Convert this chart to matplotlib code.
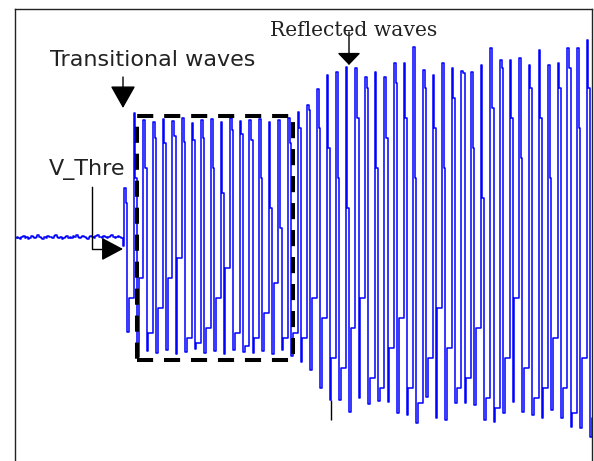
import matplotlib.pyplot as plt
from matplotlib.patches import Rectangle
from matplotlib.lines import Line2D

# samples before the trigger (baseline noise)
noise = [0, 1, 0, -1, 1, 2, 0, 1, -1, 0, 2, 1, 0, 1, 3, 1, 0, -1, 1, 0, 2, 1,
         1, 0, 2, 3, 1, 0, 1, -1, 0, 1, 2, 0, 1, 0, 2, 1, 3, 1, 0, 1, 2, 1,
         0, -1, 1, 2, 1, 0, 2, 3, 1, 1, 0, 2, 1, 0, 1, 2, 3, 1, 0, 1, 2, 1, 0, -8]

# one entry per cycle: peak, step after peak, trough, step after trough
peaks = [50, 125,
         118, 116, 119, 117, 120, 115, 118, 119, 116, 120, 117, 118, 119, 116, 118, 120,
         126, 133, 149, 163, 166, 171, 170, 161, 166, 161, 175, 175, 191, 168, 163, 175,
         170, 167, 166, 173, 190, 178, 178, 180, 173, 188, 173, 175, 190, 190, 198]
upper_steps = [35, 60,
               70, 100, 95, 102, 96, 98, 100, 70, 45, 108, 104, 98, 60, 30, 10, 95,
               110, 128, 110, 90, 60, 30, 120, 150, 70, 100, 155, 120, 60, 150, 110, 70,
               140, 165, 90, 40, 130, 170, 120, 80, 150, 120, 60, 150, 170, 110, 150]
troughs = [-94, -119,
           -113, -115, -112, -116, -114, -111, -115, -113, -116, -112, -114, -115, -113, -116, -112, -118,
           -124, -132, -150, -162, -162, -174, -160, -166, -163, -164, -175, -177, -185, -159, -180, -182,
           -165, -165, -167, -182, -184, -175, -164, -174, -177, -180, -172, -180, -189, -190, -199]
lower_steps = [-60, -40,
               -95, -70, -40, -20, -100, -105, -90, -60, -30, -95, -108, -100, -75, -45, -100, -95,
               -100, -60, -80, -120, -130, -90, -60, -140, -150, -110, -80, -150, -165, -120, -70, -110,
               -150, -140, -90, -160, -170, -120, -60, -130, -160, -150, -100, -150, -175, -120, -180]

# transitional window and cursor mark (sample index / value)
box_x = [76.0, 173.1]
box_y = [-122, 122]
cursor_x = 196.7
cursor_y = [-162, -182]

# each cycle spans 6 samples; the step after the trough is held longest
samples = list(noise)
for p, u, t, l in zip(peaks, upper_steps, troughs, lower_steps):
    samples += [p, u, t, l, l, l]
x = list(range(len(samples)))

W, H = 594, 461
fig = plt.figure(figsize=(W / 100, H / 100), dpi=100)
ax = fig.add_axes([15 / W, 0, 577 / W, 452 / H])

ax.plot(x, samples, color='#0000ff', lw=1.1, drawstyle='steps-post')
ax.vlines(cursor_x, cursor_y[0], cursor_y[1], color='black', lw=1)
ax.add_patch(Rectangle((box_x[0], box_y[0]), box_x[1] - box_x[0], box_y[1] - box_y[0],
                       fill=False, ec='black', lw=2.9, ls=(0, (4, 2.7)), zorder=3))

ax.set_xlim(0, 359.3)
ax.set_ylim(-223, 229)
ax.set_xticks([])
ax.set_yticks([])
ax.spines['bottom'].set_visible(False)
for s in ['left', 'top', 'right']:
    ax.spines[s].set_color('#222222')
    ax.spines[s].set_linewidth(1)


def px(x, y):
    return (x / W, 1 - y / H)


def arrow(start, end, hl, hw):
    ax.annotate('', xy=px(*end), xytext=px(*start), xycoords='figure fraction',
                textcoords='figure fraction',
                arrowprops=dict(arrowstyle='-|>,head_length=%g,head_width=%g' % (hl, hw),
                                mutation_scale=1, color='black', lw=1,
                                shrinkA=0, shrinkB=0))


fig.text(*px(50, 66), 'Transitional waves', fontsize=16, family='DejaVu Sans',
         color='#222222', va='baseline')
fig.text(*px(270, 36), 'Reflected waves', fontsize=14.6, family='DejaVu Serif',
         color='#222222', va='baseline')
fig.text(*px(49, 175), 'V_Thre', fontsize=16, family='DejaVu Sans',
         color='#222222', va='baseline')

arrow((123, 77), (123, 108), 14, 7.9)
arrow((349, 32), (349, 65), 7.5, 7.2)
fig.add_artist(Line2D([92 / W, 92 / W, 104 / W], [1 - 187 / H, 1 - 249 / H, 1 - 249 / H],
                      color='black', lw=1))
arrow((104, 249), (123, 249), 13.5, 7.2)

fig.savefig('out.png', dpi=100)
